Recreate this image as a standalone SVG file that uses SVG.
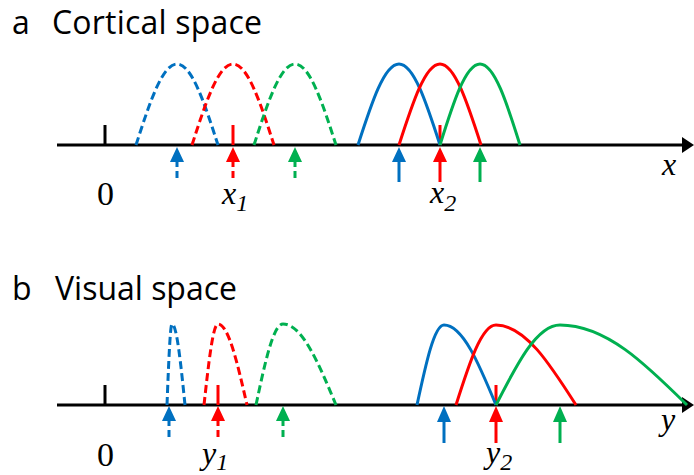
<svg xmlns="http://www.w3.org/2000/svg" width="694" height="475" viewBox="0 0 694 475">
<style>
.title{font-family:"Open Sans","Noto Sans",sans-serif;font-size:32px;fill:#000}
.lab{font-family:"Liberation Serif","Times New Roman",serif;fill:#000}
.num{font-size:34px}
.it{font-style:italic;font-size:32px}
.sub{font-size:24px}
.axis{stroke:#000;stroke-width:3;fill:none}
.c{fill:none;stroke-width:3}
.d{stroke-dasharray:8 4}
.ds{stroke-dasharray:7 4}
.b{stroke:#0070C0}.r{stroke:#FF0000}.g{stroke:#00B050}
.fb{fill:#0070C0}.fr{fill:#FF0000}.fg{fill:#00B050}
</style>
<rect width="694" height="475" fill="#fff"/>

<g id="panel-a">
  <text class="title" x="12" y="34">a</text>
  <text class="title" x="52" y="34" textLength="210">Cortical space</text>
  <g id="axis-a">
    <line class="axis" x1="57" y1="145" x2="686" y2="145"/>
    <polygon points="682,137 694,145 682,153" fill="#000"/>
    <line class="axis" x1="105" y1="125" x2="105" y2="145"/>
    <line class="c r" x1="233" y1="125" x2="233" y2="145"/>
    <line class="c r" x1="440" y1="125" x2="440" y2="145"/>
  </g>
  <g id="curves-a">
    <path class="c d b" d="M136,145 C149.4,103.5 162.2,64 177,64 C191.8,64 204.6,103.5 218,145"/>
    <path class="c d r" d="M192,145 C205.4,103.5 218.2,64 233,64 C247.8,64 260.6,103.5 274,145"/>
    <path class="c d g" d="M254,145 C267.4,103.5 280.2,64 295,64 C309.8,64 322.6,103.5 336,145"/>
    <path class="c b" d="M358,145 C371.4,103.5 384.2,64 399,64 C413.8,64 426.6,103.5 440,145"/>
    <path class="c r" d="M399,145 C412.4,103.5 425.2,64 440,64 C454.8,64 467.6,103.5 481,145"/>
    <path class="c g" d="M440,145 C453,103.5 465.5,64 480,64 C494.5,64 507,103.5 520,145"/>
  </g>
  <g id="arrows-a">
    <line class="c ds b" x1="177" y1="160" x2="177" y2="180"/>
    <polygon class="fb" points="170,162 177,147 184,162"/>
    <line class="c ds r" x1="233" y1="160" x2="233" y2="180"/>
    <polygon class="fr" points="226,162 233,147 240,162"/>
    <line class="c ds g" x1="295" y1="160" x2="295" y2="180"/>
    <polygon class="fg" points="288,162 295,147 302,162"/>
    <line class="c b" x1="399" y1="160" x2="399" y2="182"/>
    <polygon class="fb" points="392,162 399,147 406,162"/>
    <line class="c r" x1="440" y1="160" x2="440" y2="182"/>
    <polygon class="fr" points="433,162 440,147 447,162"/>
    <line class="c g" x1="480" y1="160" x2="480" y2="182"/>
    <polygon class="fg" points="473,162 480,147 487,162"/>
  </g>
  <g id="labels-a">
    <text class="lab num" x="105.5" y="205" text-anchor="middle">0</text>
    <text class="lab it" x="222" y="204">x<tspan class="sub" dy="7">1</tspan></text>
    <text class="lab it" x="430" y="203">x<tspan class="sub" dy="8">2</tspan></text>
    <text class="lab it" x="662" y="175">x</text>
  </g>
</g>

<g id="panel-b">
  <text class="title" x="12" y="300">b</text>
  <text class="title" x="55" y="300" textLength="182">Visual space</text>
  <g id="axis-b">
    <line class="axis" x1="57" y1="405" x2="686" y2="405"/>
    <polygon points="682,397 694,405 682,413" fill="#000"/>
    <line class="axis" x1="105" y1="385" x2="105" y2="405"/>
    <line class="c r" x1="218" y1="385" x2="218" y2="405"/>
    <line class="c r" x1="496" y1="385" x2="496" y2="405"/>
  </g>
  <g id="curves-b">
    <path class="c d b" d="M167,405 C168.6,363.5 170.2,324 172,324 C176.7,324 180.8,363.5 185,405"/>
    <path class="c d r" d="M204,405 C208.6,363.5 212.9,324 218,324 C228.5,324 237.5,363.5 247,405"/>
    <path class="c d g" d="M256,405 C264.8,363.5 273.2,324 283,324 C302.2,324 318.7,363.5 336,405"/>
    <path class="c b" d="M417,405 C425.8,364 434.2,325 444,325 C462.8,325 479,364 496,405"/>
    <path class="c r" d="M456,405 C469,364 481.5,325 496,325 C525,325 549.9,364 576,405"/>
    <path class="c g" d="M496,405 C516.9,364 536.8,325 560,325 C606,325 645.6,364 687,405"/>
  </g>
  <g id="arrows-b">
    <line class="c ds b" x1="169" y1="419" x2="169" y2="441"/>
    <polygon class="fb" points="162,421 169,406 176,421"/>
    <line class="c ds r" x1="218" y1="419" x2="218" y2="441"/>
    <polygon class="fr" points="211,421 218,406 225,421"/>
    <line class="c ds g" x1="283" y1="419" x2="283" y2="441"/>
    <polygon class="fg" points="276,421 283,406 290,421"/>
    <line class="c b" x1="444" y1="420" x2="444" y2="443"/>
    <polygon class="fb" points="437,422 444,406 451,422"/>
    <line class="c r" x1="496" y1="420" x2="496" y2="443"/>
    <polygon class="fr" points="489,422 496,406 503,422"/>
    <line class="c g" x1="560" y1="420" x2="560" y2="443"/>
    <polygon class="fg" points="553,422 560,406 567,422"/>
  </g>
  <g id="labels-b">
    <text class="lab num" x="105.5" y="466" text-anchor="middle">0</text>
    <text class="lab it" x="202" y="464">y<tspan class="sub" dy="6">1</tspan></text>
    <text class="lab it" x="486" y="463">y<tspan class="sub" dy="7">2</tspan></text>
    <text class="lab it" x="661" y="430">y</text>
  </g>
</g>
</svg>
